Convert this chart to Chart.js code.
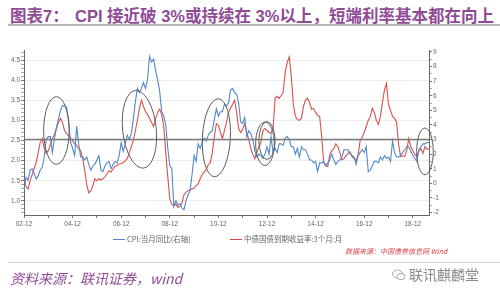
<!DOCTYPE html>
<html>
<head>
<meta charset="utf-8">
<script src="https://cdn.jsdelivr.net/npm/chart.js@4"></script>
<style>
  body { margin: 0; background: #fff; width: 500px; height: 292px; overflow: hidden; position: relative;
         font-family: "Liberation Sans", "Noto Sans CJK SC", sans-serif; }
  .ttl { position: absolute; top: 3px; font-size: 16.5px; font-weight: bold; color: #8f4b94; white-space: nowrap;
         font-family: "Liberation Sans", "Noto Sans CJK SC", sans-serif; }
  .rule { position: absolute; left: 8px; right: 0; height: 2px; background: #b9b9b9; }
  #wrap { position: absolute; left: 0; top: 40px; width: 470px; height: 195px; }
  .lg { position: absolute; top: 233px; font-size: 7.5px; color: #666; white-space: nowrap; font-family: "Noto Sans CJK SC", sans-serif; }
  .lg i { display: inline-block; width: 12px; height: 0; border-top: 1px solid; vertical-align: middle; margin-right: 2px; }
  #src1 { position: absolute; left: 345px; top: 246px; font-size: 7px; color: #d8404a; font-style: italic; white-space: nowrap;
          font-family: "Noto Sans CJK SC", sans-serif; }
  #src2 { position: absolute; left: 10px; top: 268px; font-size: 14px; color: #8f4b94; font-style: italic; white-space: nowrap;
          font-family: "Noto Sans CJK SC", sans-serif; }
  #wx { position: absolute; left: 392px; top: 264px; font-size: 14px; color: #8a8a8a; white-space: nowrap;
        font-family: "Noto Sans CJK SC", sans-serif; }
</style>
</head>
<body>
<div class="ttl" style="left:10px">图表7：</div>
<div class="ttl" style="left:75px">CPI 接近破 3%或持续在 3%以上，短端利率基本都在向上</div>
<div class="rule" style="top:24px"></div>
<div id="wrap"><canvas id="c" width="470" height="195"></canvas></div>
<div class="lg" style="left:113px"><i style="color:#4d85c8"></i>CPI:当月同比(右轴)</div>
<div class="lg" style="left:230px"><i style="color:#d6494a"></i>中债国债到期收益率:3个月:月</div>
<div id="src1">数据来源：中国债券信息网 Wind</div>
<div class="rule" style="top:262px;height:1px;background:#cfcfcf"></div>
<div id="src2">资料来源：联讯证券，wind</div>
<div id="wx"><svg width="14" height="12" viewBox="0 0 14 12" style="vertical-align:-1px;margin-right:3px">
  <ellipse cx="5.5" cy="5" rx="5" ry="4" fill="none" stroke="#aaa" stroke-width="1"/>
  <ellipse cx="9" cy="7.5" rx="4" ry="3.2" fill="#fff" stroke="#aaa" stroke-width="1"/></svg>联讯麒麟堂</div>
<script>
// months 2002-12 .. 2019-08
const startYear = 2002, startMonth = 12, monthCount = 201;
const months = [];
for (let i = 0; i < monthCount; i++) {
  const t = startMonth - 1 + i;
  const yy = (startYear + Math.floor(t / 12)) % 100;
  const mm = (t % 12) + 1;
  months.push(String(yy).padStart(2, "0") + "-" + String(mm).padStart(2, "0"));
}
const tickLabels = ["02-12", "04-12", "06-12", "08-12", "10-12", "12-12", "14-12", "16-12", "18-12"];

// CPI yoy, right axis
const cpi = [
  -0.4,
  0.4, 0.2, 0.9, 1.0, 0.7, 0.3, 0.5, 0.9, 1.1, 1.8, 3.0, 3.2,
  3.2, 2.1, 3.0, 3.8, 4.4, 5.0, 5.3, 5.3, 5.2, 4.3, 2.8, 2.4,
  1.9, 3.9, 2.7, 1.8, 1.8, 1.6, 1.8, 1.3, 0.9, 1.2, 1.3, 1.6,
  1.9, 0.9, 0.8, 1.2, 1.4, 1.5, 1.0, 1.3, 1.5, 1.4, 1.9, 2.8,
  2.2, 2.7, 3.3, 3.0, 3.4, 4.4, 5.6, 6.5, 6.2, 6.5, 6.9, 6.5,
  7.1, 8.7, 8.3, 8.5, 7.7, 7.1, 6.3, 4.9, 4.6, 4.0, 2.4, 1.2,
  1.0, -1.6, -1.2, -1.5, -1.4, -1.7, -1.8, -1.2, -0.8, -0.5, 0.6, 1.9,
  1.5, 2.7, 2.4, 2.8, 3.1, 2.9, 3.3, 3.5, 3.6, 4.4, 5.1, 4.6,
  4.9, 4.9, 5.4, 5.3, 5.5, 6.4, 6.5, 6.2, 6.1, 5.5, 4.2, 4.1,
  4.5, 3.2, 3.6, 3.4, 3.0, 2.2, 1.8, 2.0, 1.9, 1.7, 2.0, 2.5,
  2.0, 3.2, 2.1, 2.4, 2.1, 2.7, 2.7, 2.6, 3.1, 3.2, 3.0, 2.5,
  2.5, 2.0, 2.4, 1.8, 2.5, 2.3, 2.3, 2.0, 1.6, 1.6, 1.4, 1.5,
  0.8, 1.4, 1.4, 1.5, 1.2, 1.4, 1.6, 2.0, 1.6, 1.3, 1.5, 1.6,
  1.8, 2.3, 2.3, 2.3, 2.0, 1.9, 1.8, 1.3, 1.9, 2.1, 2.3, 2.1,
  2.5, 0.8, 0.9, 1.2, 1.5, 1.5, 1.4, 1.8, 1.6, 1.9, 1.7, 1.8,
  1.5, 2.9, 2.1, 1.8, 1.8, 1.9, 2.1, 2.3, 2.5, 2.5, 2.2, 1.9,
  1.7, 1.5, 2.3, 2.5, 2.7, 2.7, 2.8, 2.8
];

// 3M government bond yield, left axis
const yield3m = [
  1.55,
  1.35, 1.30, 1.50, 1.65, 1.80, 1.95, 2.20, 2.45, 2.55, 2.30, 2.18, 2.25,
  2.40, 2.55, 2.65, 2.80, 2.95, 3.05, 2.95, 2.75, 2.68, 2.62, 2.55, 2.50,
  2.42, 2.38, 2.30, 2.25, 2.05, 1.75, 1.40, 1.20, 1.25, 1.38, 1.55, 1.50,
  1.55, 1.52, 1.55, 1.60, 1.68, 1.75, 1.72, 1.80, 1.86, 1.88, 1.92, 1.93,
  1.95, 2.00, 2.05, 2.20, 2.35, 2.50, 2.75, 3.00, 3.30, 3.50, 3.35, 3.22,
  3.15, 3.05, 2.95, 2.85, 3.05, 3.20, 3.28, 3.15, 2.85, 2.20, 1.60, 1.05,
  0.92, 0.88, 0.92, 0.84, 0.86, 0.95, 1.15, 1.22, 1.25, 1.27, 1.30, 1.32,
  1.38, 1.42, 1.55, 1.65, 1.72, 1.78, 1.90, 1.95, 2.20, 2.60, 2.92, 2.88,
  2.70, 2.55, 2.75, 2.95, 3.20, 3.30, 3.40, 3.50, 3.20, 2.80, 2.70, 2.78,
  2.92, 2.70, 2.52, 2.30, 2.15, 2.05, 2.22, 2.35, 2.45, 2.75, 2.80, 2.75,
  2.70, 2.68, 2.80, 3.55, 3.60, 3.55, 3.62, 3.70, 4.20, 4.45, 4.58, 4.10,
  3.40, 3.10, 3.02, 3.00, 3.05, 3.35, 3.50, 3.55, 3.45, 3.28, 3.30, 3.20,
  3.12, 3.10, 2.60, 1.95, 1.88, 1.85, 2.15, 2.25, 2.30, 2.42, 2.35, 2.20,
  2.02, 2.05, 2.12, 2.18, 2.22, 2.10, 2.05, 2.00, 2.15, 2.50, 2.58, 2.70,
  2.85, 3.00, 3.10, 3.30, 3.20, 3.00, 2.90, 3.10, 3.45, 3.75, 3.92, 3.40,
  3.25, 3.10, 3.05, 2.95, 2.40, 2.10, 2.12, 2.10, 2.25, 2.55, 2.35, 2.25,
  2.15, 2.10, 2.25, 2.30, 2.18, 2.35, 2.28, 2.30
];

const leftTicks = [1.0, 1.5, 2.0, 2.5, 3.0, 3.5, 4.0, 4.5];
const rightTicks = [-2, -1, 0, 1, 2, 3, 4, 5, 6, 7, 8, 9];
const cpiMark = 3; // the 3% line, right axis

// hand-drawn rings in the original, given in data units (left axis)
const rings = [
  { at: "04-04", y: 2.75, dm: 6.3, dy: 0.84, tilt: 0 },
  { at: "07-09", y: 2.78, dm: 8.3, dy: 0.97, tilt: -6 },
  { at: "10-11", y: 2.57, dm: 6.9, dy: 0.97, tilt: 3 },
  { at: "12-11", y: 2.42, dm: 4.6, dy: 0.54, tilt: 0 },
  { at: "12-12", y: 2.50, dm: 4.0, dy: 0.47, tilt: 0 },
  { at: "19-06", y: 2.23, dm: 4.1, dy: 0.58, tilt: 0 }
];

const overlay = {
  id: "overlay",
  afterDatasetsDraw(chart) {
    const { ctx, chartArea, scales } = chart;
    ctx.save();
    const ty = scales.y1.getPixelForValue(cpiMark);
    ctx.strokeStyle = "#7d7d7d";
    ctx.lineWidth = 1.5;
    ctx.beginPath();
    ctx.moveTo(chartArea.left, ty);
    ctx.lineTo(chartArea.right, ty);
    ctx.stroke();
    ctx.strokeStyle = "#5c5c5c";
    ctx.lineWidth = 1;
    rings.forEach((r) => {
      const i = months.indexOf(r.at);
      const cx = scales.x.getPixelForValue(i);
      const cy = scales.y.getPixelForValue(r.y);
      const rx = Math.abs(scales.x.getPixelForValue(i + r.dm) - cx);
      const ry = Math.abs(scales.y.getPixelForValue(r.y + r.dy) - cy);
      ctx.beginPath();
      ctx.ellipse(cx, cy, rx, ry, r.tilt * Math.PI / 180, 0, Math.PI * 2);
      ctx.stroke();
    });
    ctx.restore();
  }
};

const isMajor = (v, list) => list.some((t) => Math.abs(t - v) < 1e-6);
const tickFont = { family: "Liberation Sans", size: 6.5 };

new Chart(document.getElementById("c"), {
  type: "line",
  data: {
    labels: months,
    datasets: [
      { label: "CPI:当月同比(右轴)", data: cpi, yAxisID: "y1", borderColor: "#5088c8", borderWidth: 1.1, pointRadius: 0, tension: 0 },
      { label: "中债国债到期收益率:3个月:月", data: yield3m, yAxisID: "y", borderColor: "#d8504f", borderWidth: 1.1, pointRadius: 0, tension: 0 }
    ]
  },
  options: {
    responsive: false,
    animation: false,
    layout: { padding: { top: 10, left: 0, right: 0, bottom: 0 } },
    plugins: { legend: { display: false }, tooltip: { enabled: false } },
    scales: {
      x: {
        type: "category",
        offset: false,
        afterBuildTicks: (s) => { s.ticks = s.ticks.filter((t) => months[t.value].endsWith("-12")); },
        afterFit: (s) => { s.height = 20; },
        ticks: {
          autoSkip: false, maxRotation: 0, padding: 2, color: "#666", font: tickFont,
          callback: (v) => (tickLabels.includes(months[v]) ? months[v] : "")
        },
        grid: { drawOnChartArea: false, tickLength: 3, tickColor: "#777" },
        border: { color: "#666" }
      },
      y: {
        position: "left",
        min: 0.65, max: 4.75,
        afterBuildTicks: (s) => {
          const t = [];
          for (let k = 7; k <= 47; k++) t.push({ value: k / 10 });
          s.ticks = t;
        },
        afterFit: (s) => { s.width = 24; },
        ticks: {
          autoSkip: false, padding: 1, color: "#666", font: tickFont,
          callback: (v) => (isMajor(v, leftTicks) ? v.toFixed(1) : "")
        },
        grid: {
          tickLength: 3,
          color: (c) => (c.tick && isMajor(c.tick.value, leftTicks) ? "#ededed" : "rgba(0,0,0,0)"),
          tickColor: (c) => (c.tick && isMajor(c.tick.value, leftTicks) ? "#777" : "#aaa")
        },
        border: { color: "#666" }
      },
      y1: {
        position: "right",
        min: -2.17, max: 9.13,
        afterBuildTicks: (s) => {
          const t = [];
          for (let k = -4; k <= 18; k++) t.push({ value: k / 2 });
          s.ticks = t;
        },
        afterFit: (s) => { s.width = 41; },
        ticks: {
          autoSkip: false, padding: 1, color: "#666", font: tickFont,
          callback: (v) => (isMajor(v, rightTicks) ? String(v) : "")
        },
        grid: {
          drawOnChartArea: false, tickLength: 3,
          tickColor: (c) => (c.tick && isMajor(c.tick.value, rightTicks) ? "#777" : "#aaa")
        },
        border: { color: "#666" }
      }
    }
  },
  plugins: [overlay]
});
</script>
</body>
</html>
